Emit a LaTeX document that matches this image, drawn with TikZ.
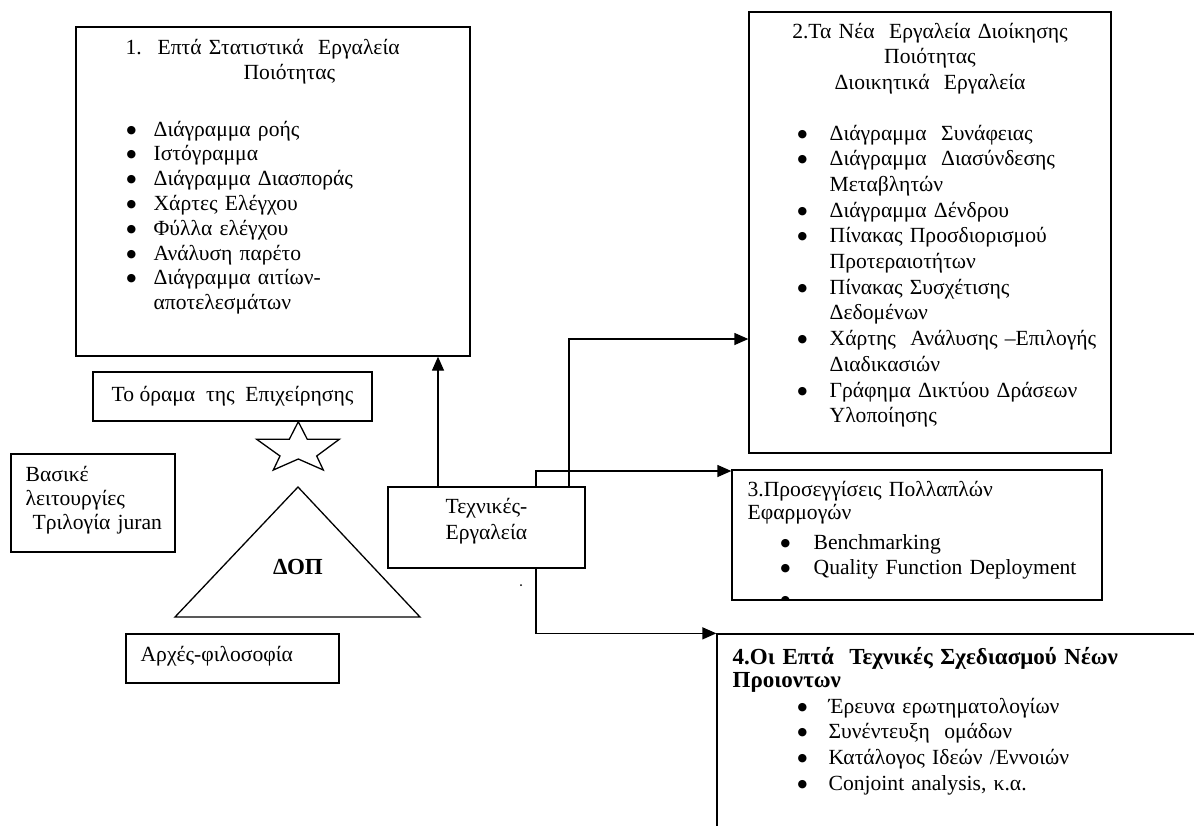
\documentclass[tikz,border=0pt]{standalone}
\usepackage{fontspec}
\setmainfont{Liberation Serif}
\newfontfamily\symfont{DejaVu Sans}
\usetikzlibrary{arrows.meta}
% list bullet: a small black disc, then the item text at a given indent
\newcommand{\bigbul}{\raisebox{1.5pt}{\symfont\fontsize{5.5}{6}\selectfont ●}}
\newcommand{\bl}[1]{\makebox[#1][l]{\bigbul}}
\begin{document}
\begin{tikzpicture}[x=0.5pt,y=-0.5pt,
  line width=0.65pt,
  box/.style={draw,rectangle,inner sep=0pt},
  txt/.style={inner sep=0pt,anchor=base west,align=left,text width=#1},
  txt/.default=200pt,
  fs/.style={font=\fontsize{10.8}{#1}\selectfont},
  arr/.style={-{Triangle[length=7pt,width=6pt]}}]
\useasboundingbox (0,0) rectangle (1194,825);
\clip (0,0) rectangle (1194,825);

% ---------- boxes ----------
\node[box,minimum width=197pt,minimum height=164.5pt] (b1) at (273,191.5) {};
\node[box,minimum width=181pt,minimum height=220.5pt] (b2) at (930,232.5) {};
\node[box,minimum width=185pt,minimum height=65pt] (b3) at (917,535) {};
\node[box,minimum width=266.5pt,minimum height=133pt] (b4) at (983.5,767) {};
\node[box,minimum width=98.5pt,minimum height=40.5pt] (tech) at (486.5,527.5) {};
\node[box,minimum width=139.5pt,minimum height=24.5pt,fs=12pt] (vis) at (232.5,396.5)
  {Το όραμα\ \ της\ \ Επιχείρησης};
\node[box,minimum width=82pt,minimum height=49pt] (bas) at (93,503) {};
\node[box,minimum width=106.5pt,minimum height=24.5pt] (arx) at (232.5,658.5) {};

% ---------- box 1 ----------
\node[txt,fs=12.5pt] (t1) at (125,54)
  {\makebox[16pt][l]{1.}Επτά Στατιστικά\ \ Εργαλεία\\\hspace*{59pt}Ποιότητας};
\node[txt,fs=12.4pt] (l1) at (126,136)
  {\bl{13.5pt}Διάγραμμα ροής\\
   \bl{13.5pt}Ιστόγραμμα\\
   \bl{13.5pt}Διάγραμμα Διασποράς\\
   \bl{13.5pt}Χάρτες Ελέγχου\\
   \bl{13.5pt}Φύλλα ελέγχου\\
   \bl{13.5pt}Ανάλυση παρέτο\\
   \bl{13.5pt}Διάγραμμα αιτίων-\\
   \hspace*{13.5pt}αποτελεσμάτων};

% ---------- box 2 ----------
\node[inner sep=0pt,anchor=base,align=center,text width=180pt,fs=12.75pt] (t2) at (930,38)
  {2.Τα Νέα\ \ Εργαλεία Διοίκησης\\Ποιότητας\\Διοικητικά\ \ Εργαλεία};
\node[txt,fs=12.85pt] (l2) at (797,140)
  {\bl{16pt}Διάγραμμα\ \ Συνάφειας\\
   \bl{16pt}Διάγραμμα\ \ Διασύνδεσης\\
   \hspace*{16pt}Μεταβλητών\\
   \bl{16pt}Διάγραμμα Δένδρου\\
   \bl{16pt}Πίνακας Προσδιορισμού\\
   \hspace*{16pt}Προτεραιοτήτων\\
   \bl{16pt}Πίνακας Συσχέτισης\\
   \hspace*{16pt}Δεδομένων\\
   \bl{16pt}Χάρτης\ \ Ανάλυσης –Επιλογής\\
   \hspace*{16pt}Διαδικασιών\\
   \bl{16pt}Γράφημα Δικτύου Δράσεων\\
   \hspace*{16pt}Υλοποίησης};

% ---------- box 3 ----------
\node[txt,fs=11.6pt] (t3) at (747,496) {3.Προσεγγίσεις Πολλαπλών\\Εφαρμογών};
\node[txt,fs=12.5pt] (l3) at (780,549)
  {\bl{16.5pt}Benchmarking\\
   \bl{16.5pt}Quality Function Deployment};
\begin{scope}
  \clip (733,471) rectangle (1101,599);
  \node[txt,fs=12.5pt] (l3c) at (780,606) {\bigbul};
\end{scope}

% ---------- box 4 ----------
\node[txt=270pt,inner sep=0pt,font=\fontsize{11.5}{11.6pt}\selectfont\bfseries] (t4) at (732,664)
  {4.Οι Επτά\ \ Τεχνικές Σχεδιασμού Νέων\\Προιοντων};
\node[txt,fs=12.9pt] (l4) at (797,713)
  {\bl{15.5pt}Έρευνα ερωτηματολογίων\\
   \bl{15.5pt}Συνέντευξη\ \ ομάδων\\
   \bl{15.5pt}Κατάλογος Ιδεών /Εννοιών\\
   \bl{15.5pt}Conjoint analysis, κ.α.};

% ---------- small boxes ----------
\node[txt,fs=13pt] (techt) at (445,513) {Τεχνικές-\\Εργαλεία};
\node[txt,fs=12pt] (bast) at (25,481) {Βασικέ\\λειτουργίες\\\hspace*{3.5pt}Τριλογία juran};
\node[txt,fs=12pt] (arxt) at (140,661) {Αρχές-φιλοσοφία};

% ---------- triangle and star ----------
\draw (298,487) -- (420,617) -- (175,617) -- cycle;
\node[font=\fontsize{11.5}{12}\selectfont\bfseries] (dop) at (298,567) {ΔΟΠ};
\draw[line join=miter] (298.3,421.7) -- (307.3,439.3) -- (339.3,439.3) -- (316.7,456)
  -- (323.3,470) -- (298.3,459) -- (273.3,470) -- (280,456) -- (256.7,439.3)
  -- (289.3,439.3) -- cycle;
\node[circle,fill,inner sep=0pt,minimum size=1pt] (spk) at (521,585) {};

% ---------- connectors ----------
\coordinate (cA) at (438,0);
\coordinate (j2) at (569,339);
\coordinate (j3) at (536,471);
\coordinate (j4) at (536,634);
\draw[arr] (tech.north -| cA) -- (b1.south -| cA);
\draw[arr] (tech.north -| j2) |- (b2.west |- j2);
\draw[arr] (tech.north -| j3) |- (b3.west |- j3);
\draw[arr] (tech.south -| j4) |- (b4.north west);
\end{tikzpicture}
\end{document}
